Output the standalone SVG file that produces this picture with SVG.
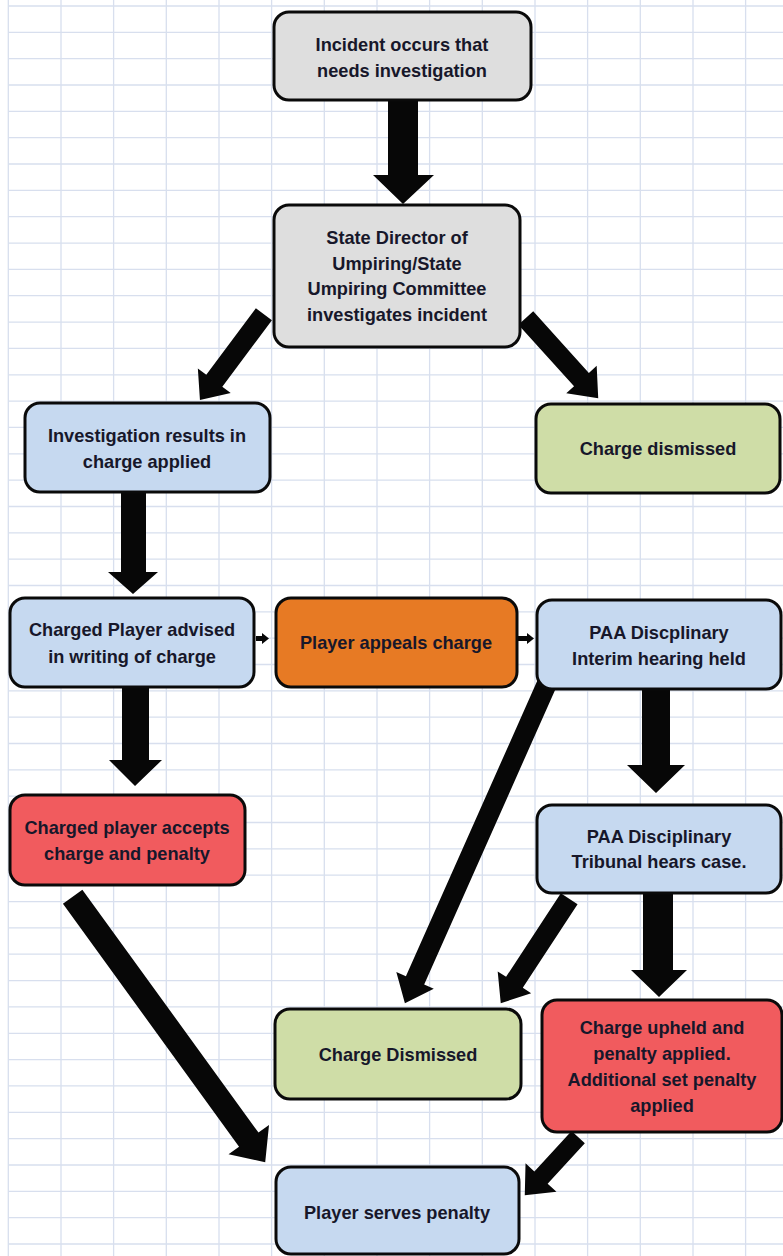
<svg xmlns="http://www.w3.org/2000/svg" width="783" height="1256" viewBox="0 0 783 1256">
<style>
.grid{stroke:#d8dfee;stroke-width:1.3;fill:none}
.box{stroke:#0a0a0a;stroke-width:3}
.gray{fill:#dedede}
.blue{fill:#c6d9f0}
.green{fill:#cfdda7}
.orange{fill:#e77a24}
.red{fill:#f15b5e}
.arr{fill:#070707}
text{font-family:"Liberation Sans",Arial,sans-serif;font-weight:bold;font-size:18.2px;fill:#17172a;text-anchor:middle}
</style>
<rect width="783" height="1256" fill="#ffffff"/>
<g id="grid">
<path class="grid" d="M8.3 0V1256M61 0V1256M113.6 0V1256M166.3 0V1256M219 0V1256M271.6 0V1256M324.3 0V1256M377 0V1256M429.6 0V1256M482.3 0V1256M535 0V1256M587.6 0V1256M640.3 0V1256M693 0V1256M745.6 0V1256"/>
<path class="grid" d="M8 6H783M8 32.3H783M8 58.7H783M8 85H783M8 111.4H783M8 137.7H783M8 164H783M8 190.4H783M8 216.7H783M8 243.1H783M8 269.4H783M8 295.7H783M8 322.1H783M8 348.4H783M8 374.8H783M8 401.1H783M8 427.4H783M8 453.8H783M8 480.1H783M8 506.5H783M8 532.8H783M8 559.1H783M8 585.5H783M8 611.8H783M8 638.2H783M8 664.5H783M8 690.8H783M8 717.2H783M8 743.5H783M8 769.9H783M8 796.2H783M8 822.5H783M8 848.9H783M8 875.2H783M8 901.6H783M8 927.9H783M8 954.2H783M8 980.6H783M8 1006.9H783M8 1033.3H783M8 1059.6H783M8 1085.9H783M8 1112.3H783M8 1138.6H783M8 1165H783M8 1191.3H783M8 1217.6H783M8 1244H783"/>
</g>
<g id="connectors">
<polygon class="arr" points="388,98 418,98 418,175 434,175 403,204 373,175 388,175"/>
<polygon class="arr" points="121,490 146,490 146,572 158,572 133,594 108,572 121,572"/>
<polygon class="arr" points="122,686 149,686 149,760 162,760 135,786 109,760 122,760"/>
<polygon class="arr" points="642,687 670,687 670,765 685,765 656,793 627,765 642,765"/>
<polygon class="arr" points="643,891 673,891 673,970 687,970 659,997 631,970 643,970"/>
<polygon class="arr" points="256,636 262,636 262,633 269,638.5 262,644 262,641 256,641"/>
<polygon class="arr" points="518,636 527,636 527,633 534,638.5 527,644 527,641 518,641"/>
<g transform="translate(261.5,317.5) rotate(126.7)"><polygon class="arr" points="-4,-10 79,-10 79,-20.5 103,0 79,20.5 79,10 -4,10"/></g>
<g transform="translate(528.5,321) rotate(47.9)"><polygon class="arr" points="-4,-10 79,-10 79,-20.5 104,0 79,20.5 79,10 -4,10"/></g>
<g transform="translate(545,688) rotate(113.96)"><polygon class="arr" points="-4,-10 320,-10 320,-20.5 345,0 320,20.5 320,10 -4,10"/></g>
<g transform="translate(567,902) rotate(123.2)"><polygon class="arr" points="-4,-10 96,-10 96,-20 121,0 96,20 96,10 -4,10"/></g>
<g transform="translate(75,900) rotate(54.05)"><polygon class="arr" points="-4,-12 296,-12 296,-25 324,0 296,25 296,12 -4,12"/></g>
<g transform="translate(575.5,1140) rotate(132.56)"><polygon class="arr" points="-4,-9 51,-9 51,-21 75,0 51,21 51,9 -4,9"/></g>
</g>
<g id="n1"><rect class="box gray" x="274" y="12" width="257" height="88" rx="15"/><text x="402" y="50.5">Incident occurs that</text><text x="402" y="76.5">needs investigation</text></g>
<g id="n2"><rect class="box gray" x="274" y="205" width="246" height="142" rx="15"/><text x="397" y="243.5">State Director of</text><text x="397" y="269.5">Umpiring/State</text><text x="397" y="294.5">Umpiring Committee</text><text x="397" y="320.5">investigates incident</text></g>
<g id="n3"><rect class="box blue" x="25" y="403" width="245" height="89" rx="15"/><text x="147" y="441.5">Investigation results in</text><text x="147" y="467.5">charge applied</text></g>
<g id="n4"><rect class="box green" x="536" y="404" width="244" height="89" rx="15"/><text x="658" y="454.5">Charge dismissed</text></g>
<g id="n5"><rect class="box blue" x="10" y="598" width="244" height="89" rx="15"/><text x="132" y="635.5">Charged Player advised</text><text x="132" y="662.5">in writing of charge</text></g>
<g id="n6"><rect class="box orange" x="276" y="598" width="241" height="89" rx="15"/><text x="396" y="648.5">Player appeals charge</text></g>
<g id="n7"><rect class="box blue" x="537" y="600" width="244" height="89" rx="15"/><text x="659" y="638.5">PAA Discplinary</text><text x="659" y="664.5">Interim hearing held</text></g>
<g id="n8"><rect class="box red" x="10" y="795" width="235" height="90" rx="15"/><text x="127" y="833.5">Charged player accepts</text><text x="127" y="859.5">charge and penalty</text></g>
<g id="n9"><rect class="box blue" x="537" y="805" width="244" height="88" rx="15"/><text x="659" y="842.5">PAA Disciplinary</text><text x="659" y="867.5">Tribunal hears case.</text></g>
<g id="n10"><rect class="box green" x="275" y="1009" width="246" height="90" rx="15"/><text x="398" y="1060.5">Charge Dismissed</text></g>
<g id="n11"><rect class="box red" x="542" y="1000" width="240" height="132" rx="15"/><text x="662" y="1033.5">Charge upheld and</text><text x="662" y="1059.5">penalty applied.</text><text x="662" y="1085.5">Additional set penalty</text><text x="662" y="1111.5">applied</text></g>
<g id="n12"><rect class="box blue" x="276" y="1167" width="243" height="87" rx="15"/><text x="397" y="1218.5">Player serves penalty</text></g>
</svg>
